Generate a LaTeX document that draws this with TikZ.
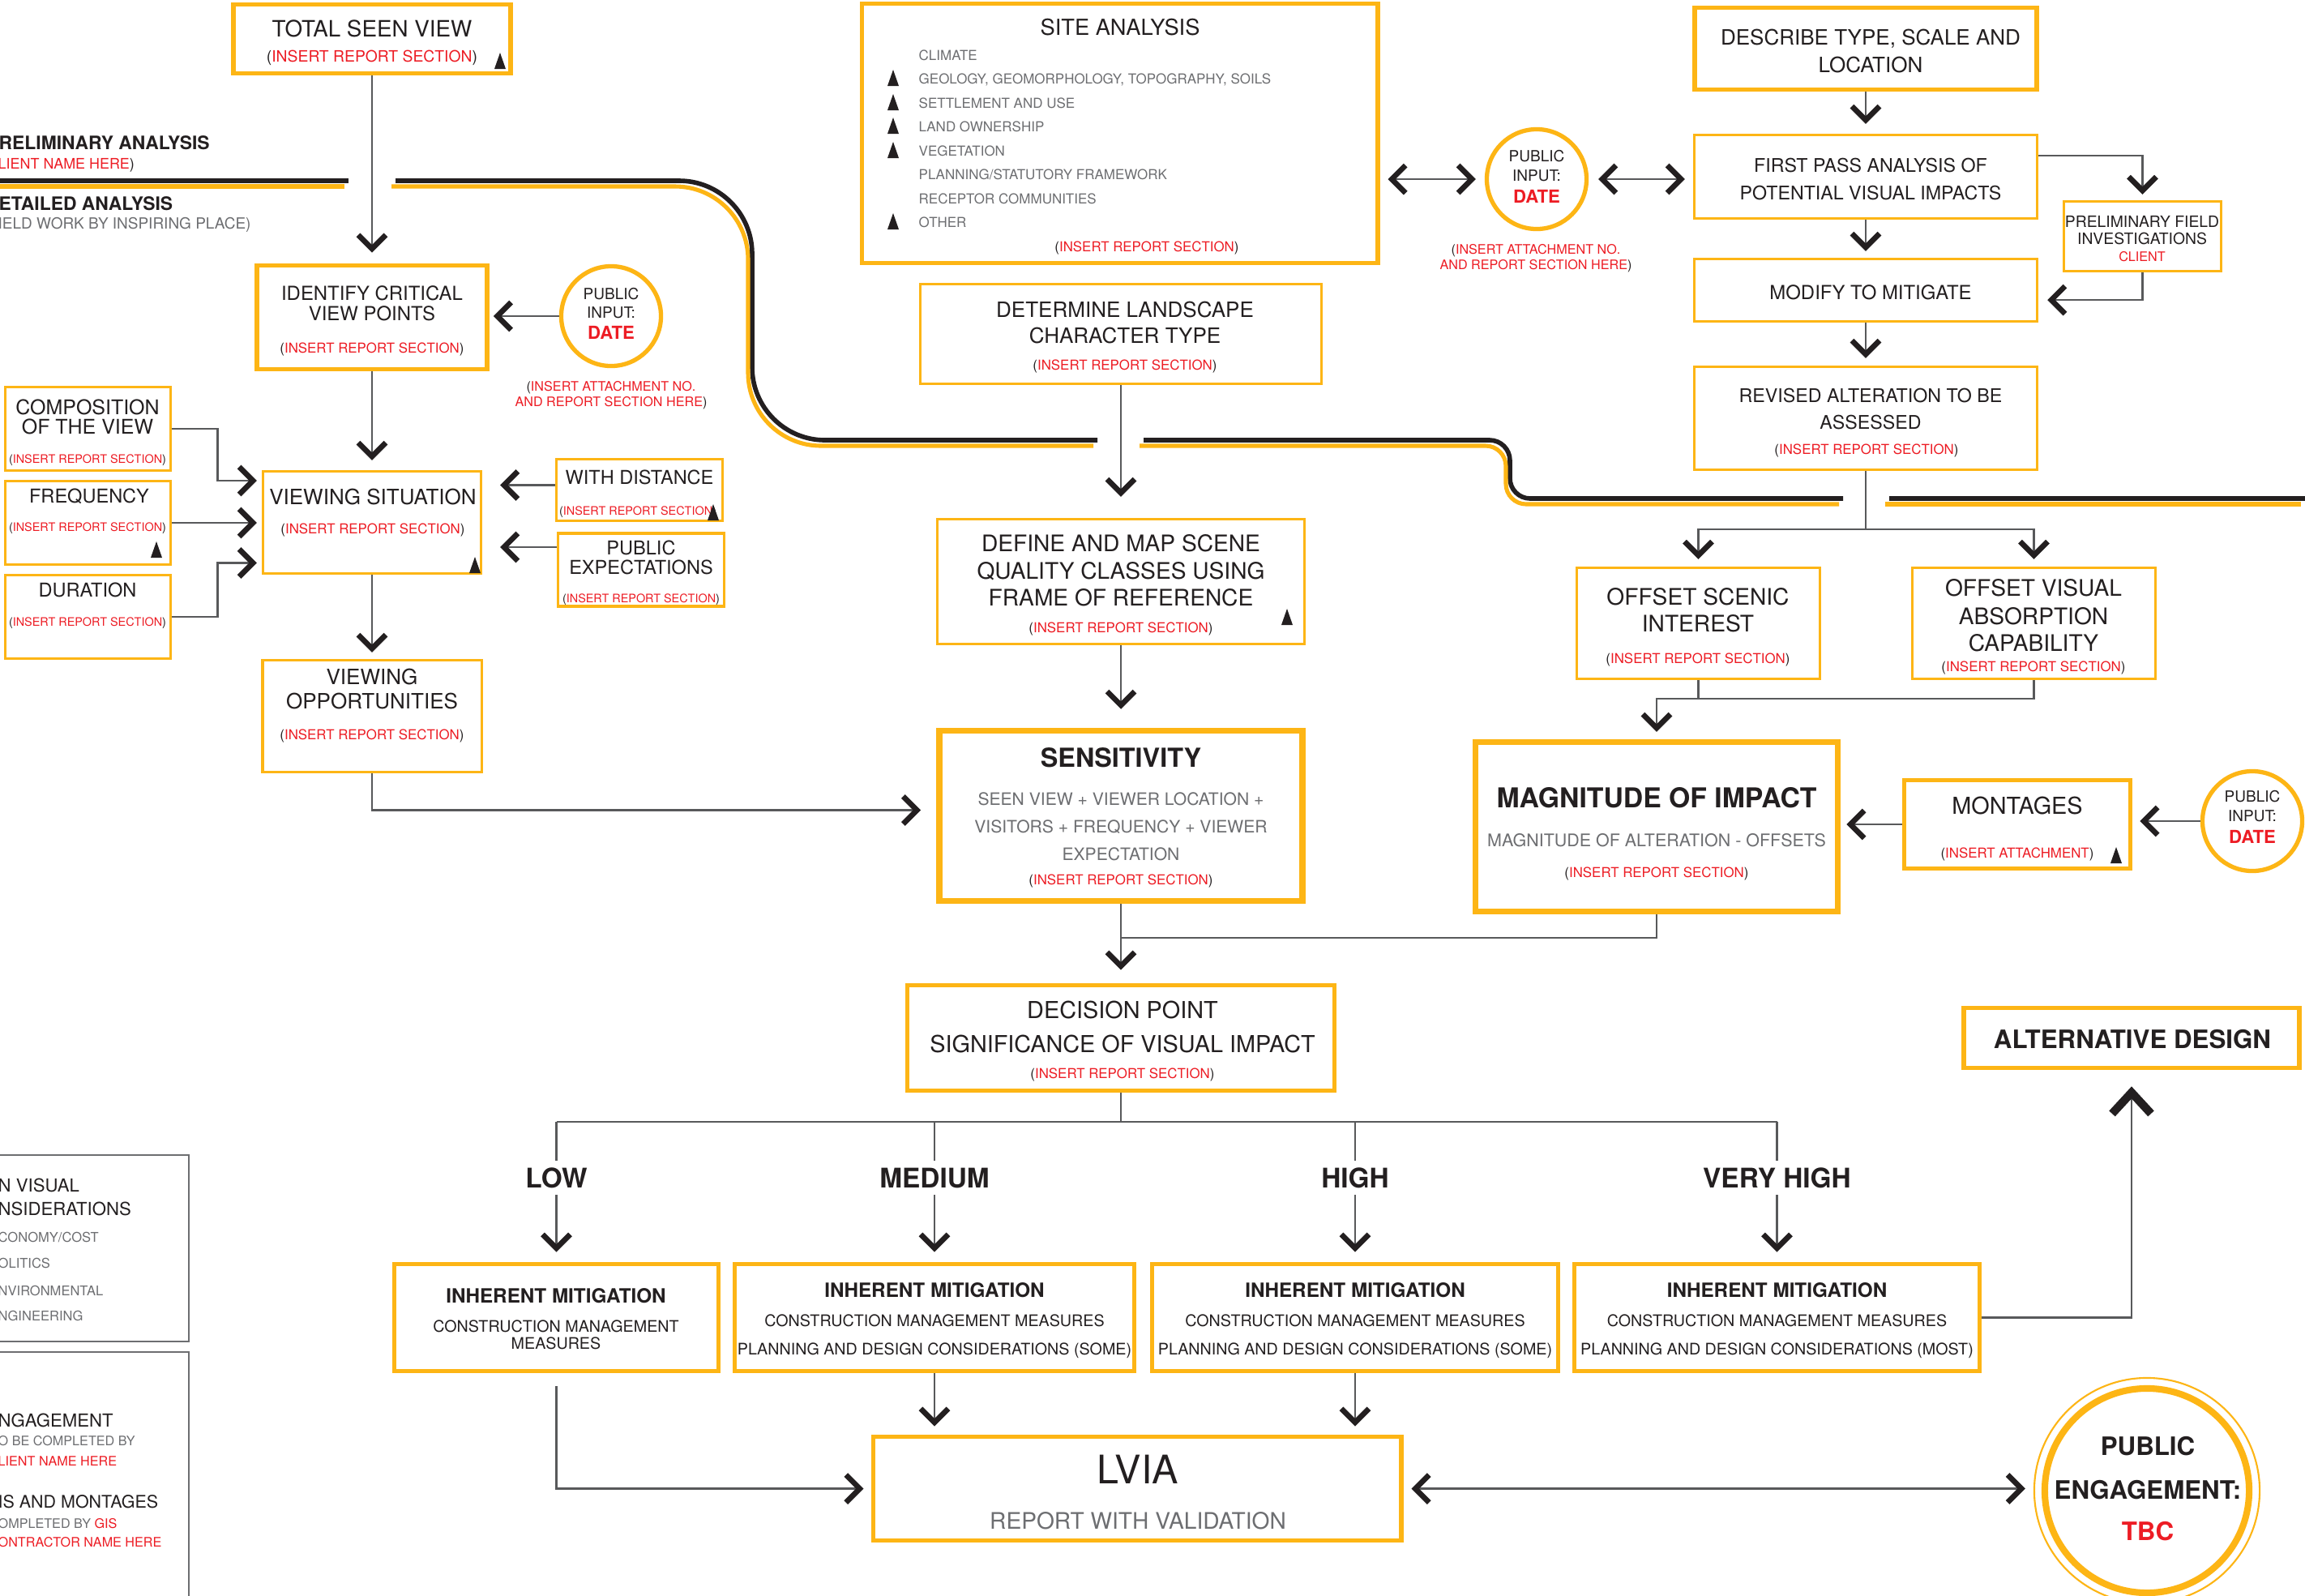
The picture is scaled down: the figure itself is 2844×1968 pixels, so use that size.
\documentclass[tikz,border=0pt]{standalone}
\usepackage{fontspec}
\setmainfont{TeX Gyre Heros}
\usepackage{xcolor}
\usetikzlibrary{arrows.meta, calc}
\definecolor{ylw}{HTML}{FDB515}
\definecolor{alert}{HTML}{ED1C24}
\definecolor{ink}{HTML}{231F20}
\definecolor{lgray}{HTML}{6D6E71}
\definecolor{wire}{HTML}{58595B}
\newcommand{\fsz}[1]{\fontsize{#1pt}{#1pt}\selectfont}
\newcommand{\irs}{(\textcolor{alert}{INSERT REPORT SECTION})}

\tikzset{
  ybox/.style={draw=ylw, line width=0.9pt, inner sep=0pt},
  ybold/.style={ybox, line width=1.6pt},
  yheavy/.style={ybox, line width=2.1pt},
  pubcirc/.style={circle, draw=ylw, line width=1.5pt, minimum size=1.23cm, inner sep=0pt},
  pubring/.style={circle, draw=ylw, line width=2.3pt, minimum size=2.52cm, inner sep=0pt},
  legbox/.style={draw=lgray, line width=0.6pt, inner sep=0pt},
  tx/.style={inner sep=0pt, anchor=mid, text=ink},
  txg/.style={tx, text=lgray},
  lvl/.style={font=\bfseries\fsz{9.5}, text=ink, inner sep=0.08cm, text depth=0pt},
  conn/.style={draw=wire, line width=0.6pt},
  bigtip/.style={-{Straight Barb[length=2.6mm, width=4.8mm, line width=2.9pt, color=ink]}},
  notch/.pic={\fill[ink] (-7,10) -- (7,10) -- (0,-10) -- cycle;}
}

\begin{document}
\begin{tikzpicture}[x=0.01cm, y=-0.01cm,
    >={Straight Barb[length=1.7mm, width=3.4mm, line width=1.9pt, color=ink]}]
  \useasboundingbox (0,0) rectangle (2844,1968);
  \clip (0,0) rectangle (2844,1968);
  \fill[white] (0,0) rectangle (2844,1968);

  % Stage band
  \foreach \col/\dx/\dy/\lw in {ink/0/0/1.6pt, ylw/-5/7/1.45pt} {
    \begin{scope}[shift={(\dx,\dy)}, color=\col, line width=\lw]
      \draw (0,223) -- (430,223);
      \draw[rounded corners=0.9cm] (488,223) -- (928,223) -- (928,543) -- (1354,543);
      \draw[rounded corners=0.25cm] (1411,543) -- (1863,543) -- (1863,615) -- (2274,615);
      \draw (2331,615) -- (2844,615);
    \end{scope}
  }
  \node[tx, anchor=mid west, font=\bfseries\fsz{6.5}] (prelim) at (-2,175) {RELIMINARY ANALYSIS};
  \node[tx, anchor=mid west, font=\fsz{5.1}] (prelimby) at (-3,199) {\textcolor{alert}{LIENT NAME HERE})};
  \node[tx, anchor=mid west, font=\bfseries\fsz{6.5}] (detail) at (-2,250) {ETAILED ANALYSIS};
  \node[txg, anchor=mid west, font=\fsz{5.4}] (detailby) at (-3,273) {IELD WORK BY INSPIRING PLACE)};

  % Viewing column
  \node[ybold, minimum width=3.42cm, minimum height=0.85cm] (tsv) at (459,48) {};
  \node[tx, font=\fsz{7.9}] (tsv-a) at (459,36) {TOTAL SEEN VIEW};
  \node[tx, font=\fsz{5.5}] (tsv-b) at (459,67) {\irs};
  \pic at (617,75) {notch};

  \node[ybold, minimum width=2.84cm, minimum height=1.28cm] (icv) at (459,391.5) {};
  \node[tx, font=\fsz{6.8}] (icv-a) at (459,361) {IDENTIFY CRITICAL};
  \node[tx, font=\fsz{6.8}] (icv-b) at (459,386) {VIEW POINTS};
  \node[tx, font=\fsz{4.8}] (icv-c) at (459,426) {\irs};

  \node[pubcirc] (pi1) at (754,390) {};
  \node[tx, font=\fsz{5.4}] (pi1-a) at (754,360) {PUBLIC};
  \node[tx, font=\fsz{5.4}] (pi1-b) at (754,383) {INPUT:};
  \node[tx, text=alert, font=\bfseries\fsz{6.3}] (pi1-c) at (754,409) {DATE};
  \node[tx, font=\fsz{4.6}] (pi1-d) at (754,473) {(\textcolor{alert}{INSERT ATTACHMENT NO.}};
  \node[tx, font=\fsz{4.6}] (pi1-e) at (754,492) {\textcolor{alert}{AND REPORT SECTION HERE})};

  \node[ybox, line width=1.1pt, minimum width=2.04cm, minimum height=1.03cm] (cov) at (108.5,529) {};
  \node[tx, font=\fsz{7.1}] (cov-a) at (108,502) {COMPOSITION};
  \node[tx, font=\fsz{7.1}] (cov-b) at (108,526) {OF THE VIEW};
  \node[tx, font=\fsz{4.1}] (cov-c) at (108,562) {\irs};

  \node[ybox, line width=1.1pt, minimum width=2.04cm, minimum height=1.03cm] (frq) at (108.5,645) {};
  \node[tx, font=\fsz{6.7}] (frq-a) at (110,611) {FREQUENCY};
  \node[tx, font=\fsz{4.1}] (frq-b) at (108,646) {\irs};
  \pic at (193,678) {notch};

  \node[ybox, line width=1.1pt, minimum width=2.04cm, minimum height=1.03cm] (dur) at (108.5,761) {};
  \node[tx, font=\fsz{6.7}] (dur-a) at (108,727) {DURATION};
  \node[tx, font=\fsz{4.1}] (dur-b) at (108,763) {\irs};

  \node[ybox, minimum width=2.69cm, minimum height=1.26cm] (vs) at (459,644.5) {};
  \node[tx, font=\fsz{7.4}] (vs-a) at (460,613) {VIEWING SITUATION};
  \node[tx, font=\fsz{4.8}] (vs-b) at (460,649) {\irs};
  \pic at (586,697) {notch};

  \node[ybox, minimum width=2.05cm, minimum height=0.76cm] (wd) at (789,604.5) {};
  \node[tx, font=\fsz{6.7}] (wd-a) at (789,588) {WITH DISTANCE};
  \node[tx, font=\fsz{4.1}] (wd-b) at (787,626) {\irs};
  \pic at (880,632) {notch};

  \node[ybox, minimum width=2.05cm, minimum height=0.90cm] (pex) at (791,703) {};
  \node[tx, font=\fsz{6.7}] (pex-a) at (791,675) {PUBLIC};
  \node[tx, font=\fsz{6.7}] (pex-b) at (791,699) {EXPECTATIONS};
  \node[tx, font=\fsz{4.1}] (pex-c) at (791,734) {\irs};

  \node[ybox, minimum width=2.70cm, minimum height=1.38cm] (vo) at (459,883.5) {};
  \node[tx, font=\fsz{7.4}] (vo-a) at (459,835) {VIEWING};
  \node[tx, font=\fsz{7.4}] (vo-b) at (459,865) {OPPORTUNITIES};
  \node[tx, font=\fsz{4.8}] (vo-c) at (459,903) {\irs};

  % Landscape column
  \node[ybold, minimum width=6.36cm, minimum height=3.20cm] (sa) at (1381.5,164.5) {};
  \node[tx, font=\fsz{7.75}] (sa-t) at (1382,34) {SITE ANALYSIS};
  \foreach \yy/\txt/\tr [count=\i] in {65/CLIMATE/0,
      94/{GEOLOGY, GEOMORPHOLOGY, TOPOGRAPHY, SOILS}/1,
      124/SETTLEMENT AND USE/1, 153/LAND OWNERSHIP/1, 183/VEGETATION/1,
      212/{PLANNING/STATUTORY FRAMEWORK}/0, 242/RECEPTOR COMMUNITIES/0, 271/OTHER/1} {
    \node[txg, anchor=mid west, font=\fsz{4.83}] (sa-\i) at (1133,\yy) {\txt};
    \ifnum\tr=1 \pic at (1102,\yy+2) {notch}; \fi
  }
  \node[tx, font=\fsz{4.8}] (sa-r) at (1415,301) {\irs};

  \node[pubcirc] (pi2) at (1896,221) {};
  \node[tx, font=\fsz{5.4}] (pi2-a) at (1896,190) {PUBLIC};
  \node[tx, font=\fsz{5.4}] (pi2-b) at (1896,214) {INPUT:};
  \node[tx, text=alert, font=\bfseries\fsz{6.3}] (pi2-c) at (1896,241) {DATE};
  \node[tx, font=\fsz{4.6}] (pi2-d) at (1895,304) {(\textcolor{alert}{INSERT ATTACHMENT NO.}};
  \node[tx, font=\fsz{4.6}] (pi2-e) at (1895,323) {\textcolor{alert}{AND REPORT SECTION HERE})};

  \node[ybox, minimum width=4.94cm, minimum height=1.23cm] (dlc) at (1383,412) {};
  \node[tx, font=\fsz{7.4}] (dlc-a) at (1388,382) {DETERMINE LANDSCAPE};
  \node[tx, font=\fsz{7.4}] (dlc-b) at (1388,414) {CHARACTER TYPE};
  \node[tx, font=\fsz{4.8}] (dlc-c) at (1388,447) {\irs};

  \node[ybox, minimum width=4.52cm, minimum height=1.54cm] (dms) at (1383,717.5) {};
  \node[tx, font=\fsz{8}] (dms-a) at (1383,671) {DEFINE AND MAP SCENE};
  \node[tx, font=\fsz{8}] (dms-b) at (1383,705) {QUALITY CLASSES USING};
  \node[tx, font=\fsz{8}] (dms-c) at (1383,738) {FRAME OF REFERENCE};
  \node[tx, font=\fsz{4.8}] (dms-d) at (1383,771) {\irs};
  \pic at (1588,761) {notch};

  \node[yheavy, minimum width=4.48cm, minimum height=2.10cm] (sen) at (1383,1006.5) {};
  \node[tx, font=\bfseries\fsz{9.2}] (sen-a) at (1383,937) {SENSITIVITY};
  \node[txg, font=\fsz{6}] (sen-b) at (1383,984) {SEEN VIEW + VIEWER LOCATION +};
  \node[txg, font=\fsz{6}] (sen-c) at (1383,1018) {VISITORS + FREQUENCY + VIEWER};
  \node[txg, font=\fsz{6}] (sen-d) at (1383,1052) {EXPECTATION};
  \node[tx, font=\fsz{4.8}] (sen-e) at (1383,1082) {\irs};

  \node[ybold, minimum width=5.27cm, minimum height=1.30cm] (dp) at (1383,1280.5) {};
  \node[tx, font=\fsz{8.2}] (dp-a) at (1385,1247) {DECISION POINT};
  \node[tx, font=\fsz{8.2}] (dp-b) at (1385,1289) {SIGNIFICANCE OF VISUAL IMPACT};
  \node[tx, font=\fsz{4.8}] (dp-c) at (1385,1321) {\irs};

  % Project column
  \node[ybold, minimum width=4.22cm, minimum height=1.01cm] (dtsl) at (2302,60) {};
  \node[tx, font=\fsz{7.4}] (dtsl-a) at (2308,46) {DESCRIBE TYPE, SCALE AND};
  \node[tx, font=\fsz{7.4}] (dtsl-b) at (2308,80) {LOCATION};

  \node[ybox, minimum width=4.23cm, minimum height=1.03cm] (fp) at (2302,218) {};
  \node[tx, font=\fsz{6.6}] (fp-a) at (2308,203) {FIRST PASS ANALYSIS OF};
  \node[tx, font=\fsz{6.6}] (fp-b) at (2308,237) {POTENTIAL VISUAL IMPACTS};

  \node[ybox, minimum width=1.94cm, minimum height=0.86cm] (pfi) at (2643.5,291.5) {};
  \node[tx, font=\fsz{5.5}] (pfi-a) at (2643,271) {PRELIMINARY FIELD};
  \node[tx, font=\fsz{5.5}] (pfi-b) at (2643,292) {INVESTIGATIONS};
  \node[tx, text=alert, font=\fsz{4.6}] (pfi-c) at (2643,313) {CLIENT};

  \node[ybox, minimum width=4.23cm, minimum height=0.77cm] (mtm) at (2302,358) {};
  \node[tx, font=\fsz{6.8}] (mtm-a) at (2308,360) {MODIFY TO MITIGATE};

  \node[ybox, minimum width=4.23cm, minimum height=1.27cm] (ra) at (2302,516) {};
  \node[tx, font=\fsz{6.6}] (ra-a) at (2308,487) {REVISED ALTERATION TO BE};
  \node[tx, font=\fsz{6.6}] (ra-b) at (2308,520) {ASSESSED};
  \node[tx, font=\fsz{4.8}] (ra-c) at (2303,551) {\irs};

  \node[ybox, minimum width=3.00cm, minimum height=1.37cm] (osi) at (2095.5,769) {};
  \node[tx, font=\fsz{8}] (osi-a) at (2095,737) {OFFSET SCENIC};
  \node[tx, font=\fsz{8}] (osi-b) at (2095,770) {INTEREST};
  \node[tx, font=\fsz{4.8}] (osi-c) at (2095,809) {\irs};

  \node[ybox, minimum width=3.00cm, minimum height=1.37cm] (ova) at (2509.5,769) {};
  \node[tx, font=\fsz{8}] (ova-a) at (2509,726) {OFFSET VISUAL};
  \node[tx, font=\fsz{8}] (ova-b) at (2509,761) {ABSORPTION};
  \node[tx, font=\fsz{8}] (ova-c) at (2509,794) {CAPABILITY};
  \node[tx, font=\fsz{4.8}] (ova-d) at (2509,819) {\irs};

  \node[yheavy, minimum width=4.47cm, minimum height=2.09cm] (moi) at (2044,1020) {};
  \node[tx, font=\bfseries\fsz{9.6}] (moi-a) at (2044,987) {MAGNITUDE OF IMPACT};
  \node[txg, font=\fsz{6.1}] (moi-b) at (2044,1035) {MAGNITUDE OF ALTERATION - OFFSETS};
  \node[tx, font=\fsz{4.8}] (moi-c) at (2044,1073) {\irs};

  \node[ybold, minimum width=2.79cm, minimum height=1.09cm] (mon) at (2489,1017) {};
  \node[tx, font=\fsz{8.2}] (mon-a) at (2489,995) {MONTAGES};
  \node[tx, font=\fsz{4.8}] (mon-b) at (2489,1049) {(\textcolor{alert}{INSERT ATTACHMENT})};
  \pic at (2611,1055) {notch};

  \node[pubcirc] (pi3) at (2779,1013) {};
  \node[tx, font=\fsz{5.4}] (pi3-a) at (2779,980) {PUBLIC};
  \node[tx, font=\fsz{5.4}] (pi3-b) at (2779,1004) {INPUT:};
  \node[tx, text=alert, font=\bfseries\fsz{6.3}] (pi3-c) at (2779,1031) {DATE};

  \node[ybold, minimum width=4.14cm, minimum height=0.74cm] (ad) at (2630,1280.5) {};
  \node[tx, font=\bfseries\fsz{8.9}] (ad-a) at (2631,1284) {ALTERNATIVE DESIGN};

  % Significance levels
  \foreach \n/\cx/\lab in {low/686.5/LOW, med/1153/MEDIUM, high/1672/HIGH, vhigh/2192.5/VERY HIGH}
    \node[lvl] (lv-\n) at (\cx,1453) {\lab};

  \node[ybold, minimum width=4.00cm, minimum height=1.32cm] (in-low) at (686.5,1625.5) {};
  \node[tx, font=\bfseries\fsz{6.9}] (in-low-a) at (686,1598) {INHERENT MITIGATION};
  \node[tx, font=\fsz{5.6}] (in-low-b) at (686,1634) {CONSTRUCTION MANAGEMENT};
  \node[tx, font=\fsz{5.6}] (in-low-c) at (686,1655) {MEASURES};
  \foreach \n/\cx/\w/\ex in {med/1153/4.93/SOME, high/1672/5.01/SOME, vhigh/2192.5/5.00/MOST} {
    \node[ybold, minimum width=\w cm, minimum height=1.32cm] (in-\n) at (\cx,1625.5) {};
    \node[tx, font=\bfseries\fsz{6.9}] (in-\n-a) at (\cx,1591) {INHERENT MITIGATION};
    \node[tx, font=\fsz{5.6}] (in-\n-b) at (\cx,1627) {CONSTRUCTION MANAGEMENT MEASURES};
    \node[tx, font=\fsz{5.6}] (in-\n-c) at (\cx,1662) {PLANNING AND DESIGN CONSIDERATIONS (\ex)};
  }

  \node[ybold, minimum width=6.51cm, minimum height=1.28cm] (lvia) at (1403,1836.5) {};
  \node[tx, font=\fsz{13.8}] (lvia-a) at (1404,1821) {LVIA};
  \node[txg, font=\fsz{8}] (lvia-b) at (1404,1877) {REPORT WITH VALIDATION};

  \node[pubring] (pe) at (2649,1839) {};
  \draw[ylw, line width=0.6pt] (pe.center) circle (1.39cm);
  \node[tx, font=\bfseries\fsz{8.9}] (pe-a) at (2650,1786) {PUBLIC};
  \node[tx, font=\bfseries\fsz{8.9}] (pe-b) at (2650,1840) {ENGAGEMENT:};
  \node[tx, text=alert, font=\bfseries\fsz{8.9}] (pe-c) at (2650,1891) {TBC};

  % Legend
  \node[legbox, minimum width=2.43cm, minimum height=2.30cm] (leg1) at (111.5,1540) {};
  \node[tx, anchor=mid west, font=\fsz{6.3}] (leg1-a) at (-3,1461) {N VISUAL};
  \node[tx, anchor=mid west, font=\fsz{6.3}] (leg1-b) at (-3,1490) {NSIDERATIONS};
  \node[txg, anchor=mid west, font=\fsz{4.7}] (leg1-c) at (-3,1523) {CONOMY/COST};
  \node[txg, anchor=mid west, font=\fsz{4.7}] (leg1-d) at (-3,1555) {OLITICS};
  \node[txg, anchor=mid west, font=\fsz{4.7}] (leg1-e) at (-3,1589) {NVIRONMENTAL};
  \node[txg, anchor=mid west, font=\fsz{4.7}] (leg1-f) at (-3,1620) {NGINEERING};
  \node[legbox, minimum width=2.43cm, minimum height=3.22cm] (leg2) at (111.5,1829) {};
  \node[tx, anchor=mid west, font=\fsz{6.3}] (leg2-a) at (-3,1751) {NGAGEMENT};
  \node[txg, anchor=mid west, font=\fsz{4.6}] (leg2-b) at (-3,1774) {O BE COMPLETED BY};
  \node[tx, anchor=mid west, text=alert, font=\fsz{4.6}] (leg2-c) at (-3,1799) {LIENT NAME HERE};
  \node[tx, anchor=mid west, font=\fsz{6.1}] (leg2-d) at (-3,1851) {IS AND MONTAGES};
  \node[txg, anchor=mid west, font=\fsz{4.6}] (leg2-e) at (-3,1876) {OMPLETED BY \textcolor{alert}{GIS}};
  \node[tx, anchor=mid west, text=alert, font=\fsz{4.6}] (leg2-f) at (-3,1899) {ONTRACTOR NAME HERE};

  % Connectors
  \draw[conn, ->, shorten >=0.13cm] (tsv.south) -- (icv.north);
  \draw[conn, ->, shorten >=0.05cm] (pi1.west) -- (pi1.west -| icv.east);
  \draw[conn, ->, shorten >=0.12cm] (icv.south) -- (vs.north);
  \draw[conn, ->, shorten >=0.06cm] (cov.east) -- ++(56,0) |- ([yshift=0.515cm]vs.west);
  \draw[conn, ->, shorten >=0.06cm] (frq.east) -- (frq.east -| vs.west);
  \draw[conn, ->, shorten >=0.06cm] (dur.east) -- ++(56,0) |- ([yshift=-0.5cm]vs.west);
  \draw[conn, ->, shorten >=0.22cm] ([yshift=0.06cm]wd.west) -- ([yshift=0.06cm]wd.west -| vs.east);
  \draw[conn, ->, shorten >=0.22cm] ([yshift=0.28cm]pex.west) -- ([yshift=0.28cm]pex.west -| vs.east);
  \draw[conn, ->, shorten >=0.08cm] (vs.south) -- (vo.north);
  \draw[conn, ->, shorten >=0.19cm] (vo.south) |- ([yshift=0.07cm]sen.west);

  \draw[conn, <->, shorten <=0.1cm, shorten >=0.11cm] (sa.east |- pi2.west) -- (pi2.west);
  \draw[conn, <->, shorten <=0.12cm, shorten >=0.1cm] (pi2.east) -- (pi2.east -| fp.west);
  \draw[conn, ->, shorten >=0.26cm] (dlc.south) -- (dms.north);
  \draw[conn, ->, shorten >=0.23cm] (dms.south) -- (sen.north);
  \draw[conn, ->, shorten >=0.16cm] (sen.south) -- (dp.north);
  \coordinate (mjoin) at (1383,1157);
  \draw[conn] (moi.south) |- (mjoin);

  \draw[conn, ->, shorten >=0.12cm] (dtsl.south) -- (fp.north);
  \draw[conn, ->, shorten >=0.07cm] ([yshift=0.26cm]fp.east) -| (pfi.north);
  \draw[conn, ->, shorten >=0.11cm] (pfi.south) |- ([yshift=-0.12cm]mtm.east);
  \draw[conn, ->, shorten >=0.08cm] (fp.south) -- (mtm.north);
  \draw[conn, ->, shorten >=0.09cm] (mtm.south) -- (ra.north);
  \coordinate (rsplit) at (2302,653);
  \draw[conn] (ra.south) -- (rsplit);
  \draw[conn, ->, shorten >=0.09cm] (rsplit) -| (osi.north);
  \draw[conn, ->, shorten >=0.09cm] (rsplit) -| (ova.north);
  \coordinate (ojoin) at (2044,862);
  \draw[conn] (osi.south) -- (osi.south |- ojoin);
  \draw[conn, ->, shorten >=0.09cm] (ova.south) |- (ojoin) -- (moi.north);
  \draw[conn, ->, shorten >=0.07cm] (mon.west) -- (mon.west -| moi.east);
  \draw[conn, ->, shorten >=0.09cm] (pi3.west) -- (pi3.west -| mon.east);

  \coordinate (lvl) at (1383,1384);
  \draw[conn] (dp.south) -- (lvl);
  \draw[conn] (lv-low |- lvl) -- (lv-vhigh |- lvl);
  \foreach \n in {low, med, high, vhigh} {
    \draw[conn] (lv-\n |- lvl) -- (lv-\n.north);
    \draw[conn, ->, shorten >=0.12cm] (lv-\n.south) -- (in-\n.north);
  }
  \draw[conn, ->, shorten >=0.1cm] (in-med.south) -- (in-med.south |- lvia.north);
  \draw[conn, ->, shorten >=0.1cm] (in-high.south) -- (in-high.south |- lvia.north);
  \draw[conn, ->, shorten <=0.16cm, shorten >=0.09cm] (in-low.south) |- (lvia.west);
  \draw[conn, <->, shorten <=0.1cm, shorten >=0.2cm] (lvia.east) -- (lvia.east -| pe.west);
  \draw[conn, bigtip, shorten >=0.2cm] (in-vhigh.east) -| (ad.south);
\end{tikzpicture}
\end{document}
